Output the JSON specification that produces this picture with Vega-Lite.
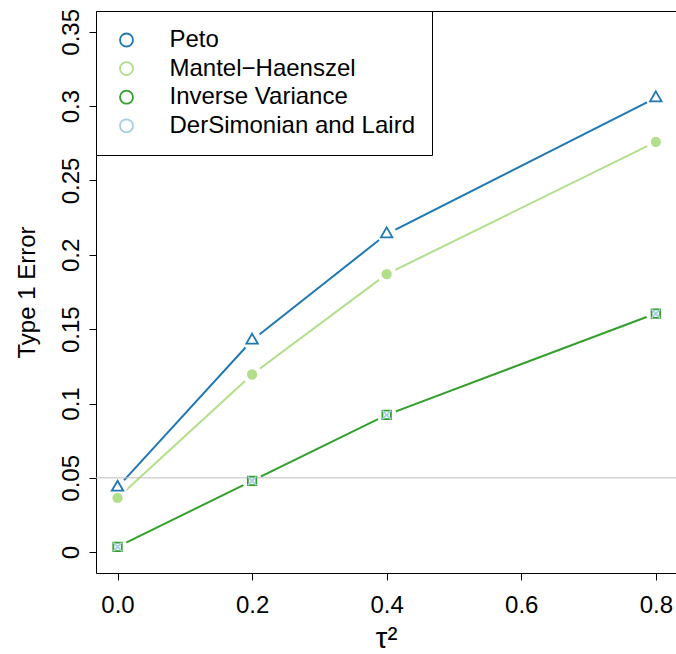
{
  "$schema": "https://vega.github.io/schema/vega-lite/v6.json",
  "width": 580,
  "height": 562,
  "autosize": {"type": "none"},
  "padding": {"left": 96, "top": 11, "right": 0, "bottom": 81},
  "background": "white",
  "config": {
    "view": {"stroke": "black", "strokeWidth": 1},
    "font": "Liberation Sans",
    "axis": {
      "labelFont": "Liberation Sans",
      "labelFontSize": 24,
      "labelColor": "black",
      "titleFont": "Liberation Sans",
      "titleFontSize": 24,
      "titleFontWeight": "normal",
      "titleColor": "black",
      "tickColor": "black",
      "tickSize": 7,
      "tickWidth": 1,
      "domain": false,
      "grid": false
    }
  },
  "data": {
    "values": [
      {"tau2": 0.0, "err": 0.0436, "method": "Peto"},
      {"tau2": 0.2, "err": 0.1425, "method": "Peto"},
      {"tau2": 0.4, "err": 0.2140, "method": "Peto"},
      {"tau2": 0.8, "err": 0.3055, "method": "Peto"},
      {"tau2": 0.0, "err": 0.0365, "method": "Mantel−Haenszel"},
      {"tau2": 0.2, "err": 0.1195, "method": "Mantel−Haenszel"},
      {"tau2": 0.4, "err": 0.1870, "method": "Mantel−Haenszel"},
      {"tau2": 0.8, "err": 0.2760, "method": "Mantel−Haenszel"},
      {"tau2": 0.0, "err": 0.0036, "method": "Inverse Variance"},
      {"tau2": 0.2, "err": 0.0480, "method": "Inverse Variance"},
      {"tau2": 0.4, "err": 0.0924, "method": "Inverse Variance"},
      {"tau2": 0.8, "err": 0.1605, "method": "Inverse Variance"},
      {"tau2": 0.0, "err": 0.0036, "method": "DerSimonian and Laird"},
      {"tau2": 0.2, "err": 0.0480, "method": "DerSimonian and Laird"},
      {"tau2": 0.4, "err": 0.0924, "method": "DerSimonian and Laird"},
      {"tau2": 0.8, "err": 0.1605, "method": "DerSimonian and Laird"}
    ]
  },
  "encoding": {
    "x": {
      "field": "tau2",
      "type": "quantitative",
      "scale": {"domain": [-0.032, 0.83], "nice": false, "zero": false},
      "axis": {
        "values": [0, 0.2, 0.4, 0.6, 0.8],
        "format": ".1f",
        "title": "τ²",
        "labelPadding": 13,
        "titlePadding": 6,
        "titleFontSize": 30
      }
    },
    "y": {
      "field": "err",
      "type": "quantitative",
      "scale": {"domain": [-0.014, 0.364], "nice": false, "zero": false},
      "axis": {
        "values": [0, 0.05, 0.1, 0.15, 0.2, 0.25, 0.3, 0.35],
        "format": "~g",
        "labelAngle": 270,
        "labelAlign": "center",
        "labelBaseline": "alphabetic",
        "labelPadding": 11,
        "title": "Type 1 Error",
        "titlePadding": 20
      }
    },
    "stroke": {
      "field": "method",
      "type": "nominal",
      "scale": {
        "domain": ["Peto", "Mantel−Haenszel", "Inverse Variance", "DerSimonian and Laird"],
        "range": ["#1f78b4", "#b2df8a", "#33a02c", "#a6cee3"]
      }
    }
  },
  "layer": [
    {
      "mark": {"type": "point", "size": 100, "strokeWidth": 1.8, "opacity": 0, "filled": false, "fill": "transparent", "shape": "circle"},
      "encoding": {
        "stroke": {
          "field": "method",
          "type": "nominal",
          "scale": {
            "domain": ["Peto", "Mantel−Haenszel", "Inverse Variance", "DerSimonian and Laird"],
            "range": ["#1f78b4", "#b2df8a", "#33a02c", "#a6cee3"]
          },
          "legend": {
            "title": null,
            "orient": "top-left",
            "offset": 0,
            "padding": 17,
            "strokeColor": "black",
            "fillColor": "white",
            "labelFont": "Liberation Sans",
            "labelFontSize": 24,
            "labelColor": "black",
            "labelLimit": 600,
            "symbolSize": 169,
            "symbolStrokeWidth": 1.8,
            "symbolOpacity": 1,
            "symbolOffset": 1.5,
            "labelOffset": 31,
            "rowPadding": 4.6,
            "encode": {
              "symbols": {
                "shape": {"value": {"signal": "datum.value === 'Peto' ? 'M-3.46,0H3.46M0,-1.33L1.15,0.67L-1.15,0.67Z' : datum.value === 'Inverse Variance' ? 'M-3.46,0H3.46M-0.85,-0.85H0.85V0.85H-0.85Z' : datum.value === 'DerSimonian and Laird' ? 'M-3.46,0H3.46M-0.85,-0.85L0.85,0.85M-0.85,0.85L0.85,-0.85' : 'M-3.46,0H3.46M0.85,0A0.85,0.85,0,1,1,-0.85,0A0.85,0.85,0,1,1,0.85,0Z'"}},
                "fill": {"value": {"signal": "datum.value === 'Mantel−Haenszel' ? '#b2df8a' : 'transparent'"}},
                "size": {"value": 169},
                "strokeWidth": {"value": 1.8},
                "opacity": {"value": 1}
              }
            }
          }
        }
      }
    },
    {
      "transform": [{"filter": "datum.method !== 'DerSimonian and Laird'"}],
      "mark": {"type": "line", "strokeWidth": 2}
    },
    {
      "mark": {"type": "circle", "size": 380, "fill": "white", "opacity": 1, "strokeWidth": 0},
      "encoding": {"stroke": null}
    },
    {
      "data": {"values": [{"ref": 0.05}]},
      "mark": {"type": "rule", "color": "#bebebe", "strokeWidth": 1},
      "encoding": {"y": {"field": "ref", "type": "quantitative"}, "x": null, "stroke": null}
    },
    {
      "transform": [{"filter": "datum.method === 'Peto'"}],
      "mark": {"type": "point", "size": 100, "strokeWidth": 1.8, "opacity": 1, "filled": false, "fill": "transparent", "shape": "M0,-1.33L1.15,0.67L-1.15,0.67Z"}
    },
    {
      "transform": [{"filter": "datum.method === 'Mantel−Haenszel'"}],
      "mark": {"type": "point", "size": 100, "strokeWidth": 1.8, "opacity": 1, "filled": false, "fill": "#b2df8a", "shape": "M0.85,0A0.85,0.85,0,1,1,-0.85,0A0.85,0.85,0,1,1,0.85,0Z"}
    },
    {
      "transform": [{"filter": "datum.method === 'Inverse Variance'"}],
      "mark": {"type": "point", "size": 100, "strokeWidth": 1.8, "opacity": 1, "filled": false, "fill": "transparent", "shape": "M-0.85,-0.85H0.85V0.85H-0.85Z"}
    },
    {
      "transform": [{"filter": "datum.method === 'DerSimonian and Laird'"}],
      "mark": {"type": "point", "size": 100, "strokeWidth": 1.8, "opacity": 1, "filled": false, "fill": "transparent", "shape": "M-0.85,-0.85L0.85,0.85M-0.85,0.85L0.85,-0.85"}
    }
  ]
}
